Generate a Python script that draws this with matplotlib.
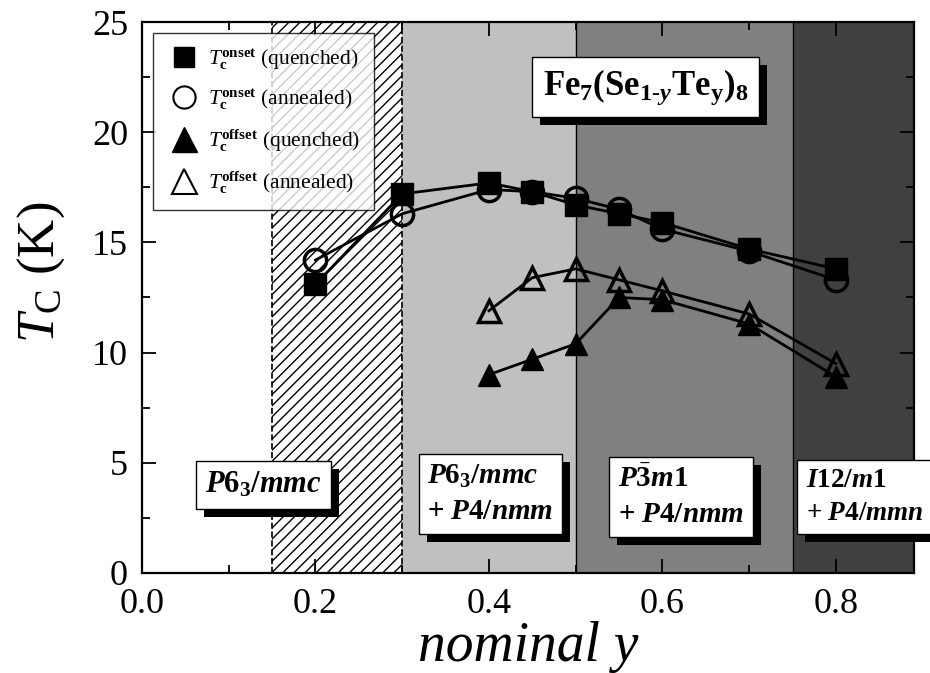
import matplotlib
matplotlib.use("Agg")
import matplotlib.pyplot as plt
from matplotlib.ticker import MultipleLocator, FormatStrFormatter
from matplotlib.lines import Line2D
from matplotlib.patches import Rectangle

plt.rcParams['font.family'] = ['Liberation Serif', 'DejaVu Serif']
plt.rcParams['mathtext.fontset'] = 'custom'
plt.rcParams['mathtext.rm'] = 'Liberation Serif'
plt.rcParams['mathtext.it'] = 'Liberation Serif:italic'
plt.rcParams['mathtext.bf'] = 'Liberation Serif:bold'
if 'mathtext.bfit' in plt.rcParams:
    plt.rcParams['mathtext.bfit'] = 'Liberation Serif:italic:bold'
plt.rcParams['hatch.linewidth'] = 1.0

# ---- data ----
y_onset = [0.2, 0.3, 0.4, 0.45, 0.5, 0.55, 0.6, 0.7, 0.8]
onset_quenched = [13.1, 17.2, 17.7, 17.3, 16.7, 16.3, 15.9, 14.7, 13.8]
onset_annealed = [14.2, 16.3, 17.4, 17.3, 17.0, 16.5, 15.6, 14.6, 13.3]
y_offset = [0.4, 0.45, 0.5, 0.55, 0.6, 0.7, 0.8]
offset_quenched = [9.0, 9.7, 10.4, 12.5, 12.4, 11.3, 8.9]
offset_annealed = [11.9, 13.4, 13.8, 13.3, 12.8, 11.75, 9.5]

region_bounds = [0.0, 0.15, 0.3, 0.5, 0.75, 0.89]
region_colors = ['white', 'white', '#c0c0c0', '#808080', '#404040']
legend_labels = [r'$T_\mathbf{c}^\mathbf{onset}$ (quenched)',
                 r'$T_\mathbf{c}^\mathbf{onset}$ (annealed)',
                 r'$T_\mathbf{c}^\mathbf{offset}$ (quenched)',
                 r'$T_\mathbf{c}^\mathbf{offset}$ (annealed)']

fig = plt.figure(figsize=(9.3, 6.73), dpi=100)
ax = fig.add_axes([0.1527, 0.1486, 0.8301, 0.8187])
ax.set_xlim(region_bounds[0], region_bounds[-1])
ax.set_ylim(0, 25)

# regions
for i in range(len(region_colors)):
    ax.axvspan(region_bounds[i], region_bounds[i + 1], color=region_colors[i], zorder=0, lw=0)
ax.axvspan(region_bounds[1], region_bounds[2], facecolor='white', edgecolor='black',
           hatch='///', lw=0, zorder=0.5)
ax.axvline(region_bounds[1], color='black', ls='--', lw=1.2, zorder=1)
ax.axvline(region_bounds[2], color='black', ls='--', lw=1.2, zorder=1)
ax.axvline(region_bounds[3], color='black', lw=1.0, zorder=1)
ax.axvline(region_bounds[4], color='black', lw=1.0, zorder=1)

lw = 2.0
ax.plot(y_onset, onset_annealed, '-o', color='black', mfc='none', mec='black', mew=2.5, ms=16, lw=lw, zorder=3)
ax.plot(y_onset, onset_quenched, '-s', color='black', mfc='black', mec='black', ms=15.5, lw=lw, zorder=4)
ax.plot(y_offset, offset_annealed, '-^', color='black', mfc='none', mec='black', mew=2.5, ms=16, lw=lw, zorder=3)
ax.plot(y_offset, offset_quenched, '-^', color='black', mfc='black', mec='black', ms=16, lw=lw, zorder=4)

# ticks
ax.xaxis.set_major_locator(MultipleLocator(0.2))
ax.xaxis.set_minor_locator(MultipleLocator(0.1))
ax.yaxis.set_major_locator(MultipleLocator(5))
ax.yaxis.set_minor_locator(MultipleLocator(2.5))
ax.tick_params(which='both', direction='in', top=True, right=True, width=1.3)
ax.tick_params(which='major', length=10, labelsize=26)
ax.tick_params(axis='x', which='major', pad=11)
ax.tick_params(axis='y', which='major', pad=10)
ax.tick_params(which='minor', length=6)
ax.xaxis.set_major_formatter(FormatStrFormatter('%.1f'))
ax.yaxis.set_major_formatter(FormatStrFormatter('%d'))
for s in ax.spines.values():
    s.set_linewidth(1.6)
    s.set_zorder(6)

ax.set_xlabel('nominal y', fontsize=40, fontstyle='italic', labelpad=0)
ax.set_ylabel(r'$T_\mathrm{C}$ (K)', fontsize=38)
ax.yaxis.set_label_coords(-0.097, 0.545)

# legend
handles = [
    Line2D([], [], ls='none', marker='s', mfc='black', mec='black', ms=15),
    Line2D([], [], ls='none', marker='o', mfc='none', mec='black', mew=1.5, ms=16),
    Line2D([], [], ls='none', marker='^', mfc='black', mec='black', ms=18),
    Line2D([], [], ls='none', marker='^', mfc='none', mec='black', mew=1.5, ms=18),
]
leg = ax.legend(handles, legend_labels, loc='upper left', bbox_to_anchor=(0.0145, 0.98),
                fontsize=15.5, frameon=True, fancybox=False, shadow=False, borderpad=0.65,
                labelspacing=0.72, handletextpad=0.3, handlelength=1.6, borderaxespad=0)
leg.get_frame().set_edgecolor('black')
leg.get_frame().set_linewidth(1.0)
leg.set_zorder(7)

boxed = []


def boxed_text(x, y, s, size):
    t = ax.text(x, y, s, fontsize=size, ha='left', va='center', color='black',
                bbox=dict(boxstyle='square,pad=0.3', fc='white', ec='black', lw=1),
                zorder=9, clip_on=False, linespacing=1.45)
    boxed.append(t)


boxed_text(0.462, 22.05,
           r'$\mathbf{Fe}_\mathbf{7}\mathbf{(Se}_{\mathbf{1}\text{-}\mathbfit{y}}\mathbf{Te}_\mathbf{y}\mathbf{)}_\mathbf{8}$',
           25)
boxed_text(0.073, 4.0, r'$\mathbfit{P}\mathbf{6}_\mathbf{3}\mathbf{/}\mathbfit{mmc}$', 22)
boxed_text(0.329, 3.6, r'$\mathbfit{P}\mathbf{6}_\mathbf{3}\mathbf{/}\mathbfit{mmc}$' + '\n' +
           r'$\mathbf{+}\ \mathbfit{P}\mathbf{4/}\mathbfit{nmm}$', 21)
boxed_text(0.549, 3.45, r'$\mathbfit{P}\bar{\mathbf{3}}\mathbfit{m}\mathbf{1}$' + '\n' +
           r'$\mathbf{+}\ \mathbfit{P}\mathbf{4/}\mathbfit{nmm}$', 21)
boxed_text(0.765, 3.45, r'$\mathbfit{I}\mathbf{12/}\mathbfit{m}\mathbf{1}$' + '\n' +
           r'$\mathbf{+}\ \mathbfit{P}\mathbf{4/}\mathbfit{mmn}$', 19.5)

# shadows behind the boxes (drawn inside the axes, below the text boxes)
fig.canvas.draw()
renderer = fig.canvas.get_renderer()
inv = fig.transFigure.inverted()
dx, dy = 8, -8
for t in boxed:
    bb = t.get_bbox_patch().get_window_extent(renderer)
    (x0, y0), (x1, y1) = inv.transform([(bb.x0 + dx, bb.y0 + dy), (bb.x1 + dx, bb.y1 + dy)])
    r = Rectangle((x0, y0), x1 - x0, y1 - y0, transform=fig.transFigure,
                  facecolor='black', edgecolor='none', zorder=8, clip_on=False)
    ax.add_patch(r)

fig.savefig('out.png', dpi=100)
